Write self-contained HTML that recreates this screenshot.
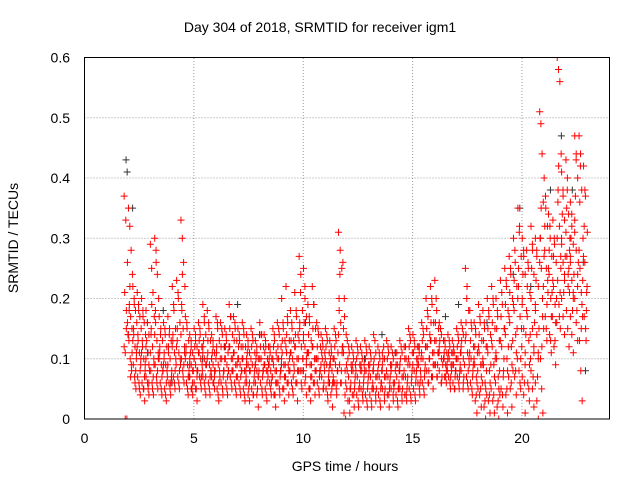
<!DOCTYPE html>
<html><head><meta charset="utf-8"><style>
body{margin:0;background:#fff;}
svg{display:block;font-family:"Liberation Sans",sans-serif;}
</style></head><body>
<svg id="chart" width="640" height="480" viewBox="0 0 640 480" xmlns="http://www.w3.org/2000/svg">
<rect width="640" height="480" fill="#fff"/>
<text x="320" y="32" text-anchor="middle" font-size="14">Day 304 of 2018, SRMTID for receiver igm1</text>
<text x="345" y="471" text-anchor="middle" font-size="14">GPS time / hours</text>
<text transform="translate(18,238) rotate(-90)" text-anchor="middle" font-size="14">SRMTID / TECUs</text>
<g id="grid"></g>
<g id="ticks"></g>
<defs><clipPath id="pc"><rect x="84" y="57" width="526" height="362"/></clipPath></defs>
<g id="marks" clip-path="url(#pc)"></g>
<rect x="84.5" y="57.5" width="525" height="361.5" fill="none" stroke="#000" stroke-width="1"/>
</svg>
<script>
const xTicks=[0,5,10,15,20];
const yTicks=[0,0.1,0.2,0.3,0.4,0.5,0.6];
const yTickLabels=["0","0.1","0.2","0.3","0.4","0.5","0.6"];
const binTimes=[1.9,2.1,2.3,2.5,2.7,2.9,3.1,3.3,3.5,3.7,3.9,4.1,4.3,4.5,4.7,4.9,5.1,5.3,5.5,5.7,5.9,6.1,6.3,6.5,6.7,6.9,7.1,7.3,7.5,7.7,7.9,8.1,8.3,8.5,8.7,8.9,9.1,9.3,9.5,9.7,9.9,10.1,10.3,10.5,10.7,10.9,11.1,11.3,11.5,11.7,11.9,12.1,12.3,12.5,12.7,12.9,13.1,13.3,13.5,13.7,13.9,14.1,14.3,14.5,14.7,14.9,15.1,15.3,15.5,15.7,15.9,16.1,16.3,16.5,16.7,16.9,17.1,17.3,17.5,17.7,17.9,18.1,18.3,18.5,18.7,18.9,19.1,19.3,19.5,19.7,19.9,20.1,20.3,20.5,20.7,20.9,21.1,21.3,21.5,21.7,21.9,22.1,22.3,22.5,22.7,22.9];
const redValues=[
[37,33,26,21,15,14,0,0],[35,32,28,24,19,17,15,13,10,8],[22,20,18,16,14,12,10,9,7,5],[21,19,17,15,13,11,9,7,6,4],[20,18,16,14,12,10,8,6,5,3],[18,16,14,12,11,9,7,6,4],[29,25,21,17,15,12,10,8,6,4],[30,28,24,20,16,13,11,9,7,5],[17,15,13,11,9,8,6,4],[16,14,12,10,9,7,5,3],
[17,15,13,11,10,8,6,4],[22,18,15,13,11,9,7,5],[23,20,16,13,11,9,7,5],[33,30,26,22,18,15,12,10,8,6],[17,15,13,11,9,7,6,4],[14,12,11,10,9,8,7,5,4],[15,13,12,10,9,8,6,5,3],[16,14,12,11,10,8,7,5],[19,16,14,12,10,9,7,6,4],[18,15,13,11,9,8,6,4],
[14,12,11,10,9,8,7,6,5],[17,15,13,11,9,7,5,3],[16,14,12,10,8,6,4],[15,13,11,10,9,8,6,4],[19,17,14,12,10,8,7,5],[17,15,13,11,9,7,6,4],[15,13,12,10,9,8,6,4],[16,14,12,10,8,7,5,3],[14,12,11,10,9,8,6,4,3],[15,13,11,9,7,5,4],
[13,11,10,9,8,7,6,4,2],[16,14,12,10,8,6,4],[14,12,10,9,8,7,5,3],[12,11,10,9,8,7,6,4],[15,13,11,9,8,6,4,2],[16,14,12,10,8,6,4],[20,15,13,11,9,7,5,3],[22,16,13,11,9,8,6,4],[18,15,13,11,10,8,6,4],[21,17,14,12,10,8,6,3],
[27,24,18,15,12,10,8,5],[25,20,17,14,12,10,8,6,4],[19,16,13,11,9,7,5,3],[22,19,15,12,10,8,6,4],[16,14,12,10,8,6,4],[14,12,11,10,9,7,5],[15,13,11,9,7,5,3],[13,11,10,9,8,6,4,2],[15,13,11,9,8,6,4],[31,28,25,20,16,12,9,6],
[26,17,14,11,8,5,1,0],[13,11,9,7,5,3,1],[12,10,9,8,6,4,2],[13,11,9,7,5,4,2],[12,10,9,8,6,5,3],[13,11,9,8,6,4,2],[12,10,8,7,5,4,2],[14,11,9,7,5,3],[12,10,8,7,6,4,2],[11,10,9,7,5,3],
[13,11,9,7,6,4,2],[12,10,8,6,5,3],[11,9,8,7,5,4,2],[13,11,9,7,5,3],[12,10,9,7,6,4,3],[15,13,11,9,7,5,3],[14,12,10,8,7,5,3],[12,11,10,9,8,6,4],[16,14,12,10,8,6,4],[20,17,14,12,10,8,6],
[22,19,16,13,11,9,7,5],[23,18,15,13,11,9,7],[16,14,12,10,8,6],[13,12,11,10,9,8,7,6],[14,12,11,10,9,7,5],[13,11,10,9,8,6,5],[15,13,11,10,8,7,5],[16,14,12,10,8,6],[25,22,18,14,11,9,7,5],[18,15,12,10,8,6,4],
[16,14,11,9,7,5,3,1],[19,16,13,11,9,6,4,2],[18,15,12,9,6,4,2,0],[20,17,14,11,8,5,3,1],[22,19,15,12,9,6,3,1],[20,17,13,10,7,4,2,0],[23,19,15,12,8,5,2],[25,22,18,14,10,7,4,1],[27,24,20,16,12,8,5,2],[30,26,22,18,14,10,7,4],
[35,32,27,22,17,12,8,5],[30,27,24,20,15,11,7,4,1],[28,25,21,17,13,10,6,3],[32,28,24,20,15,11,8,5,2],[30,27,22,18,14,10,6,3,0],[51,49,44,36,30,25,20,15,10,5,1],[40,35,32,28,25,21,17,13],[34,30,27,24,20,17,14,11],[33,29,26,22,19,16,12,9],[60,58,56,44,38,32,27,23,19,15],
[41,37,33,29,26,23,20,17,14],[43,38,34,30,27,24,21,18,15,12],[36,32,29,26,23,20,17,14,11],[47,44,40,33,28,24,20,16,13],[47,42,38,30,25,21,17,13,8,3],[42,37,31,26,21,17,13]];
const redValues2=[
[18,16,12,11],[22,18,14,11,9,7],[19,15,13,11,8,6],[18,14,12,10,8,5],[17,13,11,9,7,5],[16,13,10,8,6,5],[19,14,11,9,7,5],[26,18,14,10,8,6],[14,12,10,8,7,5],[15,11,9,8,6,4],
[14,12,9,7,6,5],[19,14,12,10,8,6],[21,15,12,10,8,6],[24,19,14,11,9,7],[16,12,10,8,7,5],[13,11,9,8,6,5],[14,12,10,8,7,5],[15,13,11,9,7,6],[17,13,11,9,7,5],[16,13,10,8,7,5],
[13,11,10,8,7,6],[16,12,10,8,6,4],[15,12,10,8,7,5],[14,12,10,8,7,5],[17,15,12,10,8,6],[16,13,11,9,7,5],[14,12,10,8,7,5],[15,12,10,8,6,4],[13,11,9,8,6,5],[14,12,10,8,6,4],
[12,10,9,8,7,5],[14,12,10,8,7,5],[13,11,9,8,6,4],[12,10,9,7,6,5],[14,12,10,8,6,4],[15,12,10,8,7,5],[16,13,10,9,7,5],[17,14,12,10,8,6],[16,13,11,9,7,5],[18,14,12,10,8,6],
[21,16,13,10,8,6],[22,16,13,11,9,7],[17,14,11,9,7,5],[19,15,12,10,8,6],[15,12,10,8,7,5],[13,11,9,8,6,5],[14,12,10,8,6,4],[12,10,9,7,6,5],[14,12,10,8,6,5],[24,18,14,11,8,6],
[20,15,12,9,6,4],[12,10,8,6,5,3],[11,9,8,7,5,4],[12,10,8,6,5,3],[11,9,8,7,5,4],[12,10,8,7,5,3],[11,9,8,6,5,3],[13,10,8,7,5,4],[11,9,8,6,5,3],[12,10,8,7,5,4],
[12,10,8,7,5,4],[11,9,8,6,5,4],[11,9,8,6,5,3],[12,10,8,7,5,4],[12,10,8,7,5,4],[14,12,10,8,6,4],[13,11,9,8,6,4],[12,10,9,7,6,5],[15,13,11,9,7,5],[18,15,12,10,8,6],
[20,16,13,11,9,7],[20,16,13,11,9,7],[15,13,11,9,7,6],[13,11,10,9,8,7],[13,11,10,8,7,6],[12,11,9,8,7,5],[14,12,10,9,7,6],[15,13,11,9,7,5],[20,16,13,10,8,6],[16,13,11,9,7,5],
[15,12,10,8,6,4],[17,14,12,9,7,5],[16,13,10,8,5,3],[18,15,12,9,6,4],[20,16,13,10,7,4],[18,15,11,8,5,3],[21,17,13,10,7,4],[23,19,15,12,8,5],[25,21,17,13,9,6],[28,23,19,15,11,8],
[31,25,20,15,10,6],[28,24,19,14,9,6],[26,22,18,14,9,5],[29,25,20,16,12,7],[28,23,19,15,11,7],[35,30,26,22,17,12],[37,32,27,23,19,15],[32,28,25,21,17,13],[30,27,23,20,16,13],[42,36,30,25,21,17],
[38,34,30,27,24,21],[40,35,31,28,25,22],[34,30,27,24,21,18],[43,37,31,26,22,18],[44,36,28,23,19,15],[38,32,27,22,18,15]];
const blackTimes=[1.9,1.95,2.2,2.9,3.6,4.0,5.4,6.4,7.0,8.0,9.0,10.1,11.2,12.8,13.6,14.2,15.3,16.5,17.1,18.4,19.6,19.9,20.4,21.3,21.8,22.3,22.8,22.9];
const blackValues=[0.43,0.41,0.35,0.11,0.18,0.06,0.10,0.12,0.19,0.14,0.09,0.16,0.06,0.10,0.14,0.11,0.12,0.17,0.19,0.16,0.24,0.35,0.22,0.38,0.47,0.38,0.26,0.08];

const X0=84.5,X1=609.5,Y0=419,Y1=57.5,XMAX=24,YMAX=0.6;
const sx=v=>X0+v/XMAX*(X1-X0);
const sy=v=>Y0-v/YMAX*(Y0-Y1);
const NS="http://www.w3.org/2000/svg";
function mk(tag,attrs,parent){const e=document.createElementNS(NS,tag);for(const k in attrs)e.setAttribute(k,attrs[k]);parent.appendChild(e);return e;}
const grid=document.getElementById('grid'),ticks=document.getElementById('ticks'),marks=document.getElementById('marks');
yTicks.forEach((t,i)=>{
  if(i>0&&i<yTicks.length-1){const g=mk('line',{x1:X0,x2:X1,y1:sy(t),y2:sy(t),stroke:'#999','stroke-dasharray':'1,2'},grid);
  
  }
  const l=mk('text',{x:70,y:sy(t)+5,'text-anchor':'end','font-size':'14'},ticks);l.textContent=yTickLabels[i];
  
  
});
xTicks.forEach(t=>{
  if(t>0){const g=mk('line',{x1:sx(t),x2:sx(t),y1:Y0,y2:Y1,stroke:'#999','stroke-dasharray':'1,2'},grid);
  
  }
  const l=mk('text',{x:sx(t),y:443,'text-anchor':'middle','font-size':'14'},ticks);l.textContent=String(t);
  
  
});
function plus(x,y,c,name){
  const p=mk('path',{d:`M${x-3.5},${y}h7M${x},${y-3.5}v7`,stroke:c,'stroke-width':1,fill:'none'},marks);
  
  
}
blackTimes.forEach((t,i)=>plus(sx(t),sy(blackValues[i]),'#333','black-point'));
binTimes.forEach((t,b)=>{
  const vals=redValues[b];const n=vals.length;
  vals.forEach((v,k)=>{const tt=t-0.1+0.2*((k*3)%n+0.5)/n;plus(sx(tt),sy(v/100),'#f00','red-point');});
  const v2=redValues2[b];const m=v2.length;
  v2.forEach((v,k)=>{const tt=t-0.1+0.2*((k*5+2)%m+0.25)/m;plus(sx(tt),sy(v/100),'#f00','red-point');});
});
</script>
</body></html>
